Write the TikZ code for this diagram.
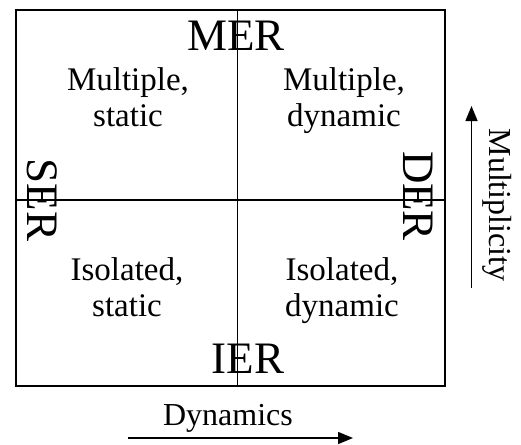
\documentclass[tikz,border=0pt]{standalone}
\usepackage{fontspec}
\setmainfont{Liberation Serif}
\usetikzlibrary{arrows.meta}
\begin{document}
\begin{tikzpicture}[x=1pt,y=-1pt,
  box/.style={line width=1.7pt},
  divider/.style={line width=1.3pt},
  big/.style={inner sep=0pt,font=\fontsize{45}{45}\selectfont},
  quad/.style={inner sep=0pt,align=center,font=\fontsize{33}{36}\selectfont},
  axis/.style={line width=1.5pt,-{Triangle[length=15pt,width=12pt]}},
  axlabel/.style={inner sep=0pt,font=\fontsize{32}{32}\selectfont}]
\useasboundingbox (0,0) rectangle (521,444);
\coordinate (tl) at (16,10);
\coordinate (br) at (445,386);
\coordinate (vt) at (237.5,10);
\coordinate (vb) at (237.5,386);
\coordinate (hl) at (16,200);
\coordinate (hr) at (445,200);
\draw[box] (tl) rectangle (br);
\draw[divider] (vt) -- (vb);
\draw[divider] (hl) -- (hr);
\node[big,anchor=base] (mer) at (236,50) {MER};
\node[big,anchor=base] (ier) at (248,373) {IER};
\node[big,rotate=-90] (ser) at (42,200) {SER};
\node[big,rotate=-90] (der) at (418,196) {DER};
\node[quad] (ms) at (128,101) {Multiple,\strut\\static\strut};
\node[quad] (md) at (344,101) {Multiple,\strut\\dynamic\strut};
\node[quad] (is) at (127,291) {Isolated,\strut\\static\strut};
\node[quad] (id) at (342,291) {Isolated,\strut\\dynamic\strut};
\node[axlabel,anchor=base] (dyn) at (228,425) {Dynamics};
\coordinate (dx0) at (128,438);
\coordinate (dx1) at (353,438);
\draw[axis] (dx0) -- (dx1);
\coordinate (my0) at (471.5,288);
\coordinate (my1) at (471.5,106);
\draw[axis] (my0) -- (my1);
\node[axlabel,rotate=-90] (mul) at (497,205) {Multiplicity};
\end{tikzpicture}
\end{document}
